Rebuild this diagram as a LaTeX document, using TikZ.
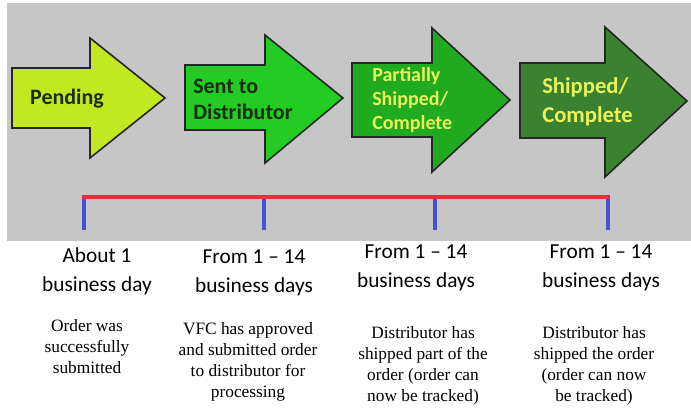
\documentclass[tikz,border=0pt]{standalone}
\usepackage{fontspec}
\setmainfont{Liberation Serif}
\newfontfamily\calib[Ligatures=TeX]{Carlito}
\usetikzlibrary{positioning}
\definecolor{panel}{HTML}{C6C6C6}
\definecolor{pendfill}{HTML}{C2E822}
\definecolor{sentfill}{HTML}{22CC22}
\definecolor{partfill}{HTML}{1FAA1F}
\definecolor{shipfill}{HTML}{3A8230}
\definecolor{darktext}{HTML}{1C2E12}
\definecolor{yellowtext}{HTML}{E8F25A}
\definecolor{lineRed}{HTML}{E03038}
\definecolor{tickBlue}{HTML}{4650D0}
\tikzstyle{stage}    = [draw=black!85, line width=1.2pt, line join=miter]
\tikzstyle{label}    = [font=\calib\bfseries, align=left, inner sep=0pt]
\tikzstyle{timing}   = [font=\calib\fontsize{16}{21.5}\selectfont, align=center, inner sep=0pt]
\tikzstyle{descr}    = [font=\fontsize{13}{15.75}\selectfont, align=center, inner sep=0pt]

\begin{document}
\begin{tikzpicture}[x=0.75pt, y=-0.75pt]

  \useasboundingbox (0,0) rectangle (691,408);
  \fill[white] (0,0) rectangle (691,408);

  %% Gray panel
  \fill[panel] (7,3) rectangle (691,241);

  %% Stage arrows
  \draw[stage, fill=pendfill] (12,68) -- (90,68) -- (90,38) -- (165,98)
        -- (90,158) -- (90,128) -- (12,128) -- cycle;
  \draw[stage, fill=sentfill] (185,65) -- (265,65) -- (265,35) -- (343,98)
        -- (265,163) -- (265,130) -- (185,130) -- cycle;
  \draw[stage, fill=partfill] (352,63) -- (432,63) -- (432,28) -- (510,100)
        -- (432,172) -- (432,137) -- (352,137) -- cycle;
  \draw[stage, fill=shipfill] (520,63) -- (605,63) -- (605,27) -- (687,101)
        -- (605,177) -- (605,138) -- (520,138) -- cycle;

  %% Stage names
  \node[label, text=darktext, font=\calib\bfseries\fontsize{16.5}{19.5}\selectfont]
        (pending) at (67,99) {Pending};
  \node[label, text=darktext, anchor=west, font=\calib\bfseries\fontsize{16.5}{19.5}\selectfont]
        (sent) at (193,99) {Sent to\\Distributor};
  \node[label, text=yellowtext, anchor=west, font=\calib\bfseries\fontsize{15}{18}\selectfont]
        (partial) at (372,100) {Partially\\Shipped/\\Complete};
  \node[label, text=yellowtext, anchor=west, font=\calib\bfseries\fontsize{17}{21.75}\selectfont]
        (shipped) at (542,102) {Shipped/\\Complete};

  %% Timeline
  \coordinate (t1) at (84,197);
  \coordinate (t2) at (264,197);
  \coordinate (t3) at (435,197);
  \coordinate (t4) at (608,197);
  \coordinate (b1) at (84,230);
  \coordinate (b2) at (264,230);
  \coordinate (b3) at (435,230);
  \coordinate (b4) at (608,230);
  \draw[tickBlue, line width=3pt] (t1) -- (b1);
  \draw[tickBlue, line width=3pt] (t2) -- (b2);
  \draw[tickBlue, line width=3pt] (t3) -- (b3);
  \draw[tickBlue, line width=3pt] (t4) -- (b4);
  \draw[lineRed, line width=3.3pt, line cap=rect] (t1) -- (t4);

  %% Durations
  \node[timing] (d1) at (97,271) {About 1\\business day};
  \node[timing] (d2) at (254,273) {From 1 \textendash{} 14\\business days};
  \node[timing] (d3) at (416,268) {From 1 \textendash{} 14\\business days};
  \node[timing] (d4) at (601,268) {From 1 \textendash{} 14\\business days};

  %% Descriptions
  \node[descr] (s1) at (87,347) {Order was\\successfully\\submitted};
  \node[descr] (s2) at (248,362) {VFC has approved\\and submitted order\\to distributor for\\processing};
  \node[descr] (s3) at (423,366) {Distributor has\\shipped part of the\\order (order can\\now be tracked)};
  \node[descr] (s4) at (594,366) {Distributor has\\shipped the order\\(order can now\\be tracked)};

\end{tikzpicture}
\end{document}
